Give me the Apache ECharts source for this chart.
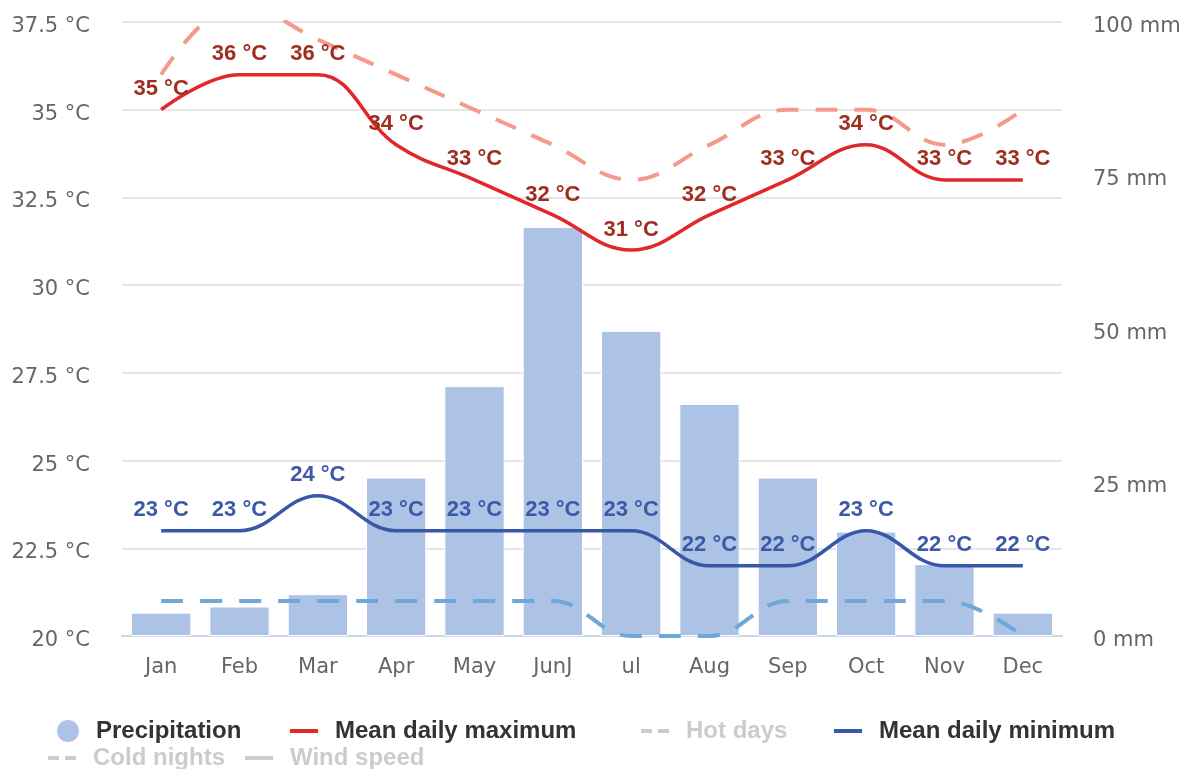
<!DOCTYPE html>
<html>
<head>
<meta charset="utf-8">
<script src="https://cdn.jsdelivr.net/npm/echarts@6/dist/echarts.min.js"></script>
<style>
html,body{margin:0;padding:0;background:#ffffff;}
#chart{width:1192px;height:769px;}
</style>
</head>
<body>
<div id="chart"></div>
<script>
// ---- data ----
const months = ["Jan","Feb","Mar","Apr","May","JunJ","ul","Aug","Sep","Oct","Nov","Dec"];
const precipitation = [3.8, 4.8, 6.8, 25.8, 40.7, 66.6, 49.7, 37.8, 25.8, 17.0, 11.7, 3.8];
const meanMax = [35, 36, 36, 34, 33, 32, 31, 32, 33, 34, 33, 33];
const hotDays = [36, 38, 37, 36, 35, 34, 33, 34, 35, 35, 34, 35];
const meanMin = [23, 23, 24, 23, 23, 23, 23, 22, 22, 23, 22, 22];
const coldNights = [21, 21, 21, 21, 21, 21, 20, 20, 21, 21, 21, 20];
const windSpeed = [];
const tempAxis = { min: 20, max: 37.5, interval: 2.5, unit: "°C" };
const precAxis = { min: 0, max: 100, interval: 25, unit: "mm" };

// ---- styles ----
const C = {
  bar: "#adc3e6",
  max: "#e0282b",
  maxLabel: "#9f2d1f",
  hot: "#f5998a",
  min: "#3757a8",
  minLabel: "#3b59a6",
  cold: "#6fa7db",
  grid: "#e6e6e6",
  axis: "#ccd6eb",
  tick: "#666666",
  off: "#cccccc"
};
const axisFont = "DejaVu Sans";
const boldFont = "Liberation Sans";

const solidIcon = "path://M0,0H28V4H0Z";
const dashIcon = "path://M0,0H11V4H0ZM17,0H28V4H17Z";

function legendItem(name, left, top, icon, w, h, color, textColor) {
  return {
    left: left, top: top,
    orient: "horizontal",
    selectedMode: false,
    itemWidth: w, itemHeight: h,
    padding: 0,
    data: [{
      name: name,
      icon: icon,
      itemStyle: { color: color, borderWidth: 0 },
      textStyle: { color: textColor }
    }],
    textStyle: {
      fontFamily: boldFont, fontWeight: "bold", fontSize: 24,
      lineHeight: 26, padding: [0, 0, 0, 12]
    }
  };
}

const chart = echarts.init(document.getElementById("chart"), null, { renderer: "canvas" });

const labelBase = {
  show: true, position: "top", distance: 9,
  fontFamily: boldFont, fontWeight: "bold", fontSize: 22,
  formatter: p => p.value + " °C"
};

const yRich = {
  v: { color: C.tick, fontFamily: axisFont, fontSize: 21, padding: [9, 0, 0, 0] }
};

chart.setOption({
  animation: false,
  backgroundColor: "#ffffff",
  grid: { left: 122, right: 130, top: 22, bottom: 133, containLabel: false },
  legend: [
    legendItem("Precipitation", 57, 718, "circle", 22, 22, C.bar, "#333333"),
    legendItem("Mean daily maximum", 290, 718, solidIcon, 28, 4, C.max, "#333333"),
    legendItem("Hot days", 641, 718, dashIcon, 28, 4, C.off, C.off),
    legendItem("Mean daily minimum", 834, 718, solidIcon, 28, 4, C.min, "#333333"),
    legendItem("Cold nights", 48, 745, dashIcon, 28, 4, C.off, C.off),
    legendItem("Wind speed", 245, 745, solidIcon, 28, 4, C.off, C.off)
  ],
  xAxis: {
    type: "category",
    data: months,
    boundaryGap: true,
    axisLine: { lineStyle: { color: C.axis, width: 2 } },
    axisTick: { alignWithLabel: true, length: 17, lineStyle: { color: C.axis, width: 2 } },
    axisLabel: { color: C.tick, fontFamily: axisFont, fontSize: 21, margin: 21 },
    splitLine: { show: false }
  },
  yAxis: [
    {
      type: "value", position: "left",
      min: tempAxis.min, max: tempAxis.max, interval: tempAxis.interval,
      axisLine: { show: false }, axisTick: { show: false },
      axisLabel: { color: C.tick, fontFamily: axisFont, fontSize: 21, margin: 32,
        rich: yRich,
        formatter: v => "{v|" + v + " " + tempAxis.unit + "}" },
      splitLine: { lineStyle: { color: C.grid, width: 2 } }
    },
    {
      type: "value", position: "right",
      min: precAxis.min, max: precAxis.max, interval: precAxis.interval,
      axisLine: { show: false }, axisTick: { show: false },
      axisLabel: { color: C.tick, fontFamily: axisFont, fontSize: 21, margin: 31,
        rich: yRich,
        formatter: v => "{v|" + v + " " + precAxis.unit + "}" },
      splitLine: { show: false }
    }
  ],
  series: [
    {
      name: "Precipitation", type: "bar", yAxisIndex: 1,
      data: precipitation, barCategoryGap: "23%",
      itemStyle: { color: C.bar, borderColor: "#ffffff", borderWidth: 1 },
      z: 1
    },
    {
      name: "Mean daily maximum", type: "line", yAxisIndex: 0,
      data: meanMax, smooth: 0.4, symbol: "circle", symbolSize: 1, showSymbol: true,
      lineStyle: { color: C.max, width: 3.5 },
      itemStyle: { color: "rgba(0,0,0,0)" },
      label: Object.assign({}, labelBase, { color: C.maxLabel }),
      z: 5
    },
    {
      name: "Hot days", type: "line", yAxisIndex: 0,
      data: hotDays, smooth: 0.4, symbol: "none",
      lineStyle: { color: C.hot, width: 4, type: [22, 17] },
      itemStyle: { color: C.hot },
      z: 3
    },
    {
      name: "Mean daily minimum", type: "line", yAxisIndex: 0,
      data: meanMin, smooth: 0.4, symbol: "circle", symbolSize: 1, showSymbol: true,
      lineStyle: { color: C.min, width: 3.5 },
      itemStyle: { color: "rgba(0,0,0,0)" },
      label: Object.assign({}, labelBase, { color: C.minLabel }),
      z: 5
    },
    {
      name: "Cold nights", type: "line", yAxisIndex: 0,
      data: coldNights, smooth: 0.4, symbol: "none",
      lineStyle: { color: C.cold, width: 4, type: [22, 17] },
      itemStyle: { color: C.cold },
      z: 3
    },
    {
      name: "Wind speed", type: "line", yAxisIndex: 0,
      data: windSpeed, symbol: "none",
      lineStyle: { color: C.off, width: 3 },
      itemStyle: { color: C.off }
    }
  ]
});
</script>
</body>
</html>
